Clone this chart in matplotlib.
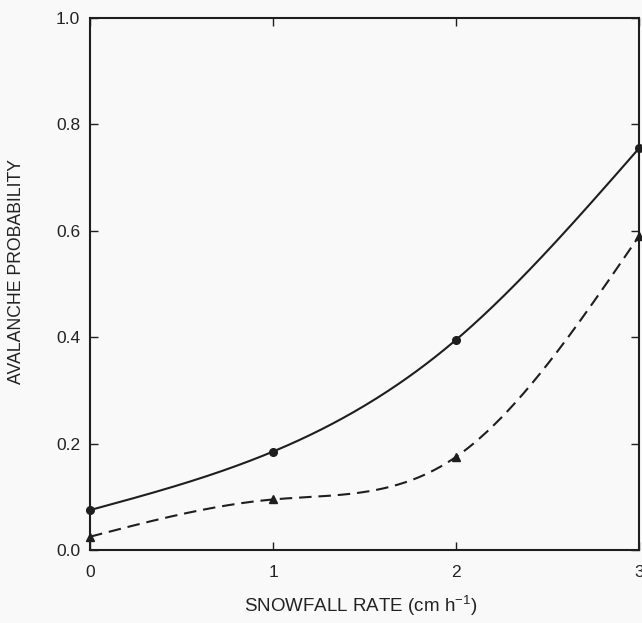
import numpy as np
import matplotlib
matplotlib.use("Agg")
import matplotlib.pyplot as plt

plt.rcParams['font.family'] = ['Liberation Sans', 'DejaVu Sans']
plt.rcParams['mathtext.fontset'] = 'custom'
plt.rcParams['mathtext.rm'] = 'Liberation Sans'
plt.rcParams['mathtext.it'] = 'Liberation Sans'

snowfall_rate = [0, 1, 2, 3]
prob_solid = [0.075, 0.185, 0.395, 0.755]
prob_dashed = [0.025, 0.095, 0.175, 0.59]
x_ticks = [0, 1, 2, 3]
y_ticks = [0.0, 0.2, 0.4, 0.6, 0.8, 1.0]


def natural_spline(x, y, xs):
    x = np.asarray(x, float); y = np.asarray(y, float)
    n = len(x)
    h = np.diff(x)
    A = np.zeros((n, n)); b = np.zeros(n)
    A[0, 0] = 1; A[-1, -1] = 1
    for i in range(1, n - 1):
        A[i, i - 1] = h[i - 1]
        A[i, i] = 2 * (h[i - 1] + h[i])
        A[i, i + 1] = h[i]
        b[i] = 6 * ((y[i + 1] - y[i]) / h[i] - (y[i] - y[i - 1]) / h[i - 1])
    M = np.linalg.solve(A, b)
    idx = np.clip(np.searchsorted(x, xs) - 1, 0, n - 2)
    x0 = x[idx]; x1 = x[idx + 1]; hh = x1 - x0
    t0 = x1 - xs; t1 = xs - x0
    return (M[idx] * t0**3 / (6 * hh) + M[idx + 1] * t1**3 / (6 * hh)
            + (y[idx] / hh - M[idx] * hh / 6) * t0
            + (y[idx + 1] / hh - M[idx + 1] * hh / 6) * t1)


fig = plt.figure(figsize=(6.42, 6.23), dpi=100)
fig.patch.set_facecolor('#f8f9f8')
ax = fig.add_axes([90/642, 1-550/623, 549/642, 532/623])
ax.set_facecolor('#f8f9f8')

col = '#1e1e1e'
xs = np.linspace(0, 3, 300)
ax.plot(xs, natural_spline(snowfall_rate, prob_solid, xs), color=col, lw=1.5,
        clip_on=False)
ax.plot(xs, natural_spline(snowfall_rate, prob_dashed, xs), color=col, lw=1.5,
        dashes=(6, 3.3), clip_on=False)
ax.plot(snowfall_rate, prob_solid, 'o', color=col, ms=5.5, clip_on=False, zorder=5)
ax.plot(snowfall_rate, prob_dashed, '^', color=col, ms=5.5, clip_on=False, zorder=5)

ax.set_xlim(0, 3)
ax.set_ylim(0, 1.0)
ax.set_xticks(x_ticks)
ax.set_yticks(y_ticks)
ax.set_xticklabels([str(v) for v in x_ticks])
ax.set_yticklabels([f"{v:.1f}" for v in y_ticks])
ax.tick_params(direction='in', length=6, width=1.0, color=col,
               top=True, right=True, labelsize=12.5, labelcolor='#222222', pad=7)
ax.tick_params(axis='x', pad=11)
for s in ax.spines.values():
    s.set_linewidth(1.5)
    s.set_color(col)

ax.set_xlabel('SNOWFALL RATE (cm h$^{-1}$)', fontsize=13.5, color='#222222', labelpad=10)
ax.xaxis.label.set_x((361 - 90) / 549)
ax.set_ylabel('AVALANCHE PROBABILITY', fontsize=12.7, color='#222222')
ax.yaxis.set_label_coords(-0.118, (550 - 271) / 532)

fig.savefig('out.png', dpi=100, facecolor=fig.get_facecolor())
